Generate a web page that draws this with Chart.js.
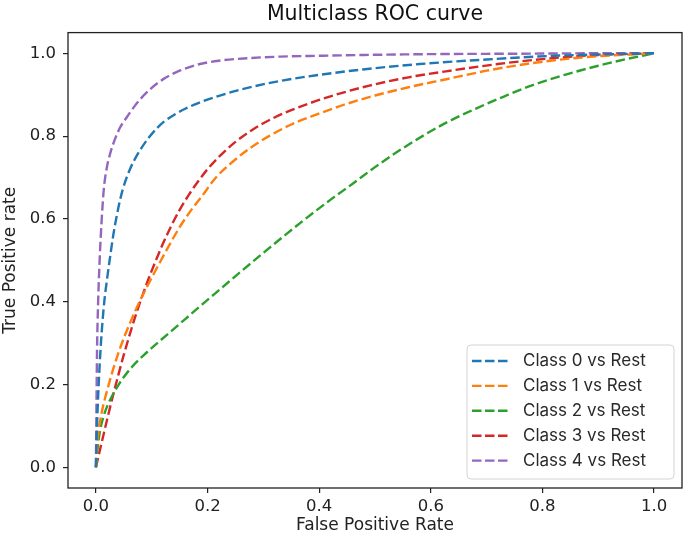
<!DOCTYPE html>
<html>
<head>
<meta charset="utf-8">
<script src="https://cdn.jsdelivr.net/npm/chart.js@4.4.1/dist/chart.umd.min.js"></script>
<style>
  html, body { margin: 0; padding: 0; background: #fff; }
  canvas { display: block; }
</style>
</head>
<body>
<canvas id="roc" width="685" height="539"></canvas>
<script>
// series (false positive rate / true positive rate)
const classLabels = ['Class 0 vs Rest', 'Class 1 vs Rest', 'Class 2 vs Rest', 'Class 3 vs Rest', 'Class 4 vs Rest'];
const classColors = ['#1f77b4', '#ff7f0e', '#2ca02c', '#d62728', '#9467bd'];

const fpr0 = [0, 0.002, 0.005, 0.009, 0.015, 0.02, 0.025, 0.031, 0.037, 0.044, 0.052, 0.061, 0.07, 0.08, 0.094, 0.11, 0.123, 0.141, 0.16, 0.18, 0.222, 0.27, 0.329, 0.395, 0.478, 0.58, 0.7, 0.82, 1.0];
const tpr0 = [0, 0.1, 0.2, 0.3, 0.4, 0.455, 0.504, 0.56, 0.605, 0.65, 0.688, 0.72, 0.745, 0.768, 0.795, 0.82, 0.836, 0.852, 0.866, 0.878, 0.898, 0.916, 0.933, 0.947, 0.961, 0.974, 0.985, 0.994, 1.0];

const fpr1 = [0, 0.002, 0.005, 0.01, 0.016, 0.023, 0.03, 0.04, 0.05, 0.06, 0.07, 0.08, 0.09, 0.1, 0.115, 0.13, 0.15, 0.17, 0.19, 0.215, 0.245, 0.275, 0.31, 0.35, 0.395, 0.445, 0.5, 0.56, 0.63, 0.7, 0.78, 0.87, 1.0];
const tpr1 = [0, 0.05, 0.09, 0.13, 0.165, 0.2, 0.233, 0.275, 0.312, 0.345, 0.376, 0.405, 0.432, 0.458, 0.496, 0.533, 0.58, 0.62, 0.655, 0.7, 0.738, 0.77, 0.8, 0.828, 0.852, 0.876, 0.898, 0.918, 0.938, 0.958, 0.976, 0.99, 1.0];

const fpr2 = [0, 0.003, 0.007, 0.013, 0.021, 0.03, 0.04, 0.05, 0.065, 0.085, 0.11, 0.135, 0.16, 0.19, 0.225, 0.26, 0.3, 0.34, 0.38, 0.42, 0.46, 0.5, 0.54, 0.585, 0.63, 0.68, 0.73, 0.78, 0.84, 0.9, 0.95, 1.0];
const tpr2 = [0, 0.045, 0.085, 0.12, 0.15, 0.175, 0.198, 0.218, 0.243, 0.27, 0.3, 0.329, 0.358, 0.393, 0.433, 0.473, 0.518, 0.562, 0.605, 0.646, 0.685, 0.725, 0.762, 0.8, 0.834, 0.866, 0.895, 0.922, 0.948, 0.97, 0.986, 1.0];

const fpr3 = [0, 0.01, 0.02, 0.03, 0.04, 0.05, 0.06, 0.07, 0.08, 0.09, 0.1, 0.11, 0.12, 0.135, 0.15, 0.165, 0.18, 0.2, 0.225, 0.25, 0.28, 0.32, 0.37, 0.43, 0.49, 0.56, 0.64, 0.72, 0.8, 0.9, 1.0];
const tpr3 = [0, 0.058, 0.115, 0.17, 0.222, 0.272, 0.318, 0.362, 0.402, 0.44, 0.475, 0.508, 0.54, 0.583, 0.622, 0.655, 0.685, 0.72, 0.756, 0.786, 0.815, 0.845, 0.873, 0.9, 0.922, 0.942, 0.959, 0.974, 0.986, 0.996, 1.0];

const fpr4 = [0, 0.001, 0.002, 0.004, 0.007, 0.01, 0.014, 0.019, 0.026, 0.034, 0.043, 0.055, 0.068, 0.08, 0.097, 0.12, 0.15, 0.18, 0.22, 0.27, 0.33, 0.4, 0.48, 0.6, 0.75, 0.9, 1.0];
const tpr4 = [0, 0.15, 0.28, 0.4, 0.51, 0.59, 0.67, 0.72, 0.76, 0.792, 0.82, 0.845, 0.87, 0.89, 0.913, 0.937, 0.958, 0.972, 0.982, 0.988, 0.992, 0.994, 0.996, 0.998, 0.999, 1.0, 1.0];

const axisTicks = [0, 0.2, 0.4, 0.6, 0.8, 1.0];

const fprs = [fpr0, fpr1, fpr2, fpr3, fpr4];
const tprs = [tpr0, tpr1, tpr2, tpr3, tpr4];

const datasets = classLabels.map((label, i) => ({
  label: label,
  data: fprs[i].map((x, j) => ({ x: x, y: tprs[i][j] })),
  borderColor: classColors[i],
  backgroundColor: classColors[i],
  borderWidth: 2.4,
  borderDash: [9.5, 4],
  pointRadius: 0,
  showLine: true,
  fill: false,
  cubicInterpolationMode: 'monotone',
}));

const tickFont = { family: 'DejaVu Sans', size: 16.5 };
const labelFont = { family: 'DejaVu Sans', size: 17 };

// frame round the plot + legend box inside it
const framePlugin = {
  id: 'framePlugin',
  afterDatasetsDraw(chart) {
    const ctx = chart.ctx;
    const a = chart.chartArea;
    ctx.save();
    ctx.strokeStyle = '#222';
    ctx.lineWidth = 1.3;
    ctx.strokeRect(a.left, a.top, a.right - a.left, a.bottom - a.top);

    const w = 207, h = 134;
    const x0 = a.right - 8 - w;
    const y0 = a.bottom - 9 - h;
    ctx.beginPath();
    ctx.roundRect(x0, y0, w, h, 4);
    ctx.fillStyle = 'rgba(255,255,255,0.85)';
    ctx.fill();
    ctx.strokeStyle = '#d4d4d4';
    ctx.lineWidth = 1;
    ctx.stroke();

    ctx.font = '17px Inter';
    ctx.textBaseline = 'middle';
    chart.data.datasets.forEach((ds, i) => {
      const y = y0 + 16 + i * 24.9;
      ctx.beginPath();
      ctx.setLineDash([9.5, 3.5]);
      ctx.strokeStyle = ds.borderColor;
      ctx.lineWidth = 2.4;
      ctx.moveTo(x0 + 5, y);
      ctx.lineTo(x0 + 41, y);
      ctx.stroke();
      ctx.setLineDash([]);
      ctx.fillStyle = '#2a2a2a';
      ctx.fillText(ds.label, x0 + 56, y);
    });
    ctx.restore();
  }
};

new Chart(document.getElementById('roc'), {
  type: 'scatter',
  data: { datasets: datasets },
  plugins: [framePlugin],
  options: {
    responsive: false,
    animation: false,
    devicePixelRatio: 1,
    layout: { padding: { top: 0, right: 3, bottom: 0, left: 0 } },
    plugins: {
      legend: { display: false },
      tooltip: { enabled: false },
      title: {
        display: true,
        text: 'Multiclass ROC curve',
        fullSize: false,
        color: '#111',
        font: { family: 'DejaVu Sans', size: 20.5, weight: 'normal' },
        padding: { top: 2, bottom: 6 },
      },
    },
    scales: {
      x: {
        type: 'linear',
        min: -0.05,
        max: 1.05,
        afterBuildTicks: s => { s.ticks = axisTicks.map(v => ({ value: v })); },
        afterFit: s => { s.height = 51; },
        grid: { drawOnChartArea: false, drawTicks: true, tickLength: 5, color: '#222', lineWidth: 1.2 },
        border: { display: false },
        ticks: { font: tickFont, color: '#222', padding: 4, maxRotation: 0, callback: v => v.toFixed(1) },
        title: { display: true, text: 'False Positive Rate', font: labelFont, color: '#222', padding: { top: 0, bottom: 3 } },
      },
      y: {
        type: 'linear',
        min: -0.05,
        max: 1.05,
        afterBuildTicks: s => { s.ticks = axisTicks.map(v => ({ value: v })); },
        afterFit: s => { s.width = 68; },
        grid: { drawOnChartArea: false, drawTicks: true, tickLength: 5, color: '#222', lineWidth: 1.2 },
        border: { display: false },
        ticks: { font: tickFont, color: '#222', padding: 7, callback: v => v.toFixed(1) },
        title: { display: true, text: 'True Positive rate', font: labelFont, color: '#222', padding: { top: 0, bottom: 2 } },
      },
    },
  },
});
</script>
</body>
</html>
